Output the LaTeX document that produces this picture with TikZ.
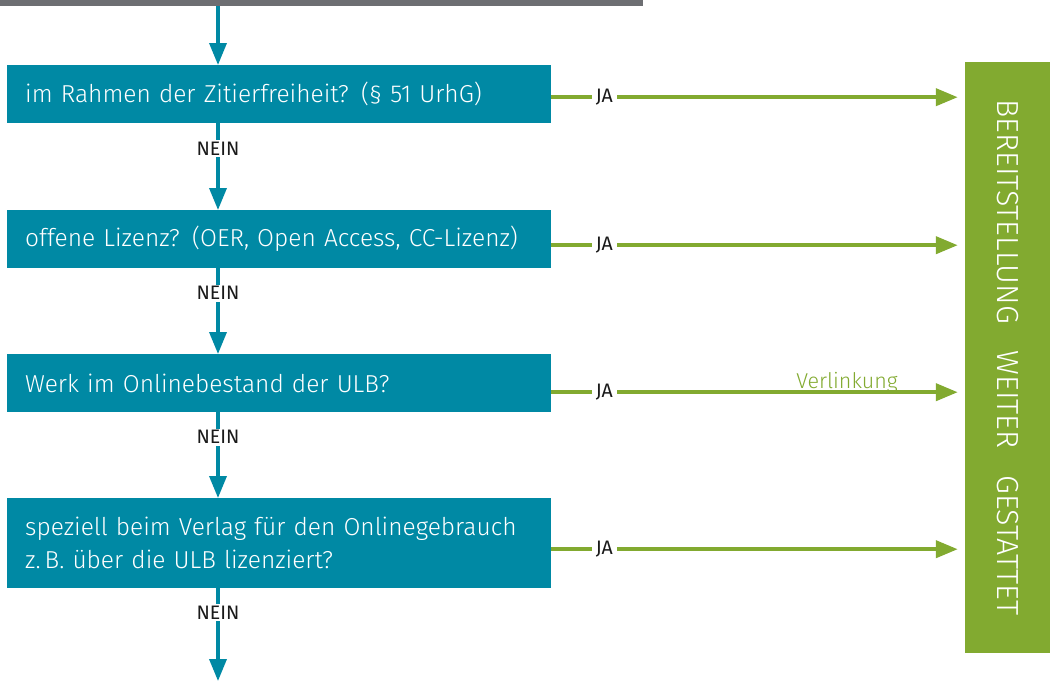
\documentclass[tikz,border=0pt]{standalone}
\usepackage{fontspec}
\setmainfont{Fira Sans Light}
\newfontfamily\labelfont{Fira Sans}
\usetikzlibrary{positioning, arrows.meta}
\definecolor{ulbteal}{RGB}{0,137,164}
\definecolor{ulbgreen}{RGB}{130,170,48}
\definecolor{ulbgray}{RGB}{109,110,114}
\definecolor{labelblack}{RGB}{26,26,26}

\begin{document}
\begin{tikzpicture}[x=1pt, y=-1pt,
    frage/.style={rectangle, fill=ulbteal, text=white, anchor=north west,
      minimum width=544pt, minimum height=58pt, text width=508pt,
      inner xsep=18pt, align=left, font=\fontsize{24.5}{33}\selectfont},
    nein/.style={draw=ulbteal, line width=3.5pt, -{Triangle[length=22pt, width=17pt]}},
    ja/.style={draw=ulbgreen, line width=4pt, -{Triangle[length=22pt, width=17pt]},
      shorten >=7pt},
    antwort/.style={fill=white, text=labelblack, inner xsep=4pt, inner ysep=2pt,
      font=\labelfont\fontsize{19.5}{21}\selectfont}]
  \useasboundingbox (0,0) rectangle (1056,681);
  % top bar and the line of NEIN arrows
  \fill[ulbgray] (0,0) rectangle (643,6);
  \coordinate (oben) at (218,6);
  \coordinate (unten) at (218,681);
  \coordinate (vmitte) at (847,0);

  \node[frage] (q1) at (7,65) {im Rahmen der Zitierfreiheit? (\S\ 51 UrhG)};
  \node[frage] (q2) at (7,210) {offene Lizenz? (OER, Open Access, CC-Lizenz)};
  \node[frage] (q3) at (7,354) {Werk im Onlinebestand der ULB?};
  \node[frage, minimum height=90pt] (q4) at (7,498)
    {speziell beim Verlag f\"ur den Onlinegebrauch\\z.\,B. \"uber die ULB lizenziert?};

  \node[rectangle, fill=ulbgreen, text=white, minimum width=591pt, minimum height=85pt,
    rotate=-90, font=\fontsize{30.5}{33}\selectfont] (ziel) at (1007.5,357.5)
    {BEREITSTELLUNG\hspace{0.6em} WEITER\hspace{0.6em} GESTATTET};

  \draw[nein] (oben) -- (oben |- q1.north);
  \draw[nein] (oben |- q1.south) -- node[antwort, pos=0.29] {NEIN} (oben |- q2.north);
  \draw[nein] (oben |- q2.south) -- node[antwort, pos=0.29] {NEIN} (oben |- q3.north);
  \draw[nein] (oben |- q3.south) -- node[antwort, pos=0.29] {NEIN} (oben |- q4.north);
  \draw[nein] (oben |- q4.south) -- node[antwort, pos=0.26] {NEIN} (unten);

  % JA lines sit a little below the box middles
  \coordinate (ja1) at ([yshift=-3pt]q1.east);
  \coordinate (ja2) at ([yshift=-6pt]q2.east);
  \coordinate (ja3) at ([yshift=-9pt]q3.east);
  \coordinate (ja4) at ([yshift=-6pt]q4.east);
  \draw[ja] (ja1) -- node[antwort, pos=0.128] {JA} (ja1 -| ziel.south);
  \draw[ja] (ja2) -- node[antwort, pos=0.128] {JA} (ja2 -| ziel.south);
  \draw[ja] (ja3) -- node[antwort, pos=0.128] {JA} (ja3 -| ziel.south);
  \draw[ja] (ja4) -- node[antwort, pos=0.128] {JA} (ja4 -| ziel.south);
  \node[above=-1pt of ja3 -| vmitte, text=ulbgreen, inner sep=0pt,
    font=\fontsize{21.5}{23}\selectfont] (verlinkung) {Verlinkung};
\end{tikzpicture}
\end{document}
